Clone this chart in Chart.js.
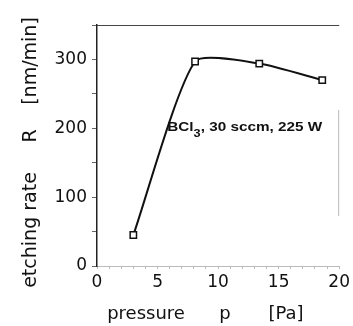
<!DOCTYPE html>
<html>
<head>
<meta charset="utf-8">
<script src="https://cdn.jsdelivr.net/npm/chart.js@4"></script>
<style>
  html, body { margin: 0; padding: 0; background: #fff; }
  #wrap { width: 353px; height: 326px; }
</style>
</head>
<body>
<div id="wrap"><canvas id="canvas1" width="353" height="326"></canvas></div>
<script>
// data
var presion = [3.0, 8.1, 13.4, 18.6];
var tasa = [45, 297, 294, 270];
var ticksX = [0, 5, 10, 15, 20];
var ticksY = [0, 100, 200, 300];

var fuente = '"DejaVu Sans", sans-serif';

// frame, titles and the annotation
var dibujo = {
  id: 'dibujo',
  afterDraw: function(chart) {
    var c = chart.ctx;
    var a = chart.chartArea;
    var sx = chart.scales.x, sy = chart.scales.y;
    c.save();
    // top line
    c.strokeStyle = '#444';
    c.lineWidth = 1.2;
    c.beginPath();
    c.moveTo(a.left, a.top + 0.5);
    c.lineTo(a.right, a.top + 0.5);
    c.stroke();
    // faint right line
    c.strokeStyle = '#bbb';
    c.lineWidth = 1;
    c.beginPath();
    c.moveTo(a.right - 0.5, a.top + 85);
    c.lineTo(a.right - 0.5, a.bottom - 50);
    c.stroke();

    // annotation
    var x0 = sx.getPixelForValue(5.8);
    var y0 = sy.getPixelForValue(196);
    c.fillStyle = '#111';
    c.textBaseline = 'alphabetic';
    c.textAlign = 'left';
    var f1 = 'bold 12px "Liberation Sans", Arial, sans-serif';
    var f2 = 'bold 10px "Liberation Sans", Arial, sans-serif';
    c.font = f1;
    var w1 = c.measureText('BCl').width;
    var w3 = c.measureText(', 30 sccm, 225 W').width;
    c.font = f2;
    var w2 = c.measureText('3').width;
    var k = 155 / (w1 + w2 + w3);
    c.translate(x0, y0);
    c.scale(k, 1);
    c.font = f1;
    c.fillText('BCl', 0, 0);
    c.font = f2;
    c.fillText('3', w1, 6);
    c.font = f1;
    c.fillText(', 30 sccm, 225 W', w1 + w2, 0);
    c.restore();

    // axis titles
    c.save();
    c.fillStyle = '#111';
    c.font = '18px ' + fuente;
    c.textAlign = 'center';
    c.textBaseline = 'alphabetic';
    c.fillText('pressure', 146, 319);
    c.fillText('p', 225, 319);
    c.fillText('[Pa]', 286, 319);
    c.font = '19px ' + fuente;
    c.translate(36, 0);
    c.rotate(-Math.PI / 2);
    c.fillText('etching rate', -230, 0);
    c.fillText('R', -136, 0);
    c.fillText('[nm/min]', -61, 0);
    c.restore();
  }
};

var ctx = document.getElementById('canvas1').getContext('2d');

const miGrafico = new Chart(ctx, {
  type: 'line',
  data: {
    datasets: [{
      label: 'etching rate',
      data: presion.map(function(p, i) { return { x: p, y: tasa[i] }; }),
      borderColor: '#111',
      borderWidth: 2,
      tension: 0.2,
      pointStyle: 'rect',
      pointRadius: 4.5,
      pointBorderWidth: 1.5,
      pointBorderColor: '#111',
      pointBackgroundColor: '#fff'
    }]
  },
  options: {
    responsive: false,
    animation: false,
    layout: { padding: { left: 0, top: 25, right: 0, bottom: 0 } },
    plugins: { legend: { display: false }, tooltip: { enabled: false } },
    scales: {
      x: {
        type: 'linear',
        min: 0,
        max: 20,
        afterFit: function(s) { s.height = 60; },
        ticks: {
          stepSize: 1,
          autoSkip: false,
          maxRotation: 0,
          padding: 3,
          color: '#111',
          font: { family: fuente, size: 17 },
          callback: function(v) { return ticksX.indexOf(v) >= 0 ? v : ''; }
        },
        grid: { drawOnChartArea: false, tickLength: 3, color: '#bbb' },
        border: { color: '#bbb', dash: [2, 3], width: 1 }
      },
      y: {
        min: 0,
        max: 350,
        afterFit: function(s) { s.width = 97; },
        ticks: {
          stepSize: 50,
          autoSkip: false,
          padding: 5,
          color: '#111',
          font: { family: fuente, size: 17 },
          callback: function(v) { return ticksY.indexOf(v) >= 0 ? v : ''; }
        },
        grid: { drawOnChartArea: false, tickLength: 5, color: '#666' },
        border: { color: '#222', width: 1.5 }
      }
    }
  },
  plugins: [dibujo]
});
</script>
</body>
</html>
